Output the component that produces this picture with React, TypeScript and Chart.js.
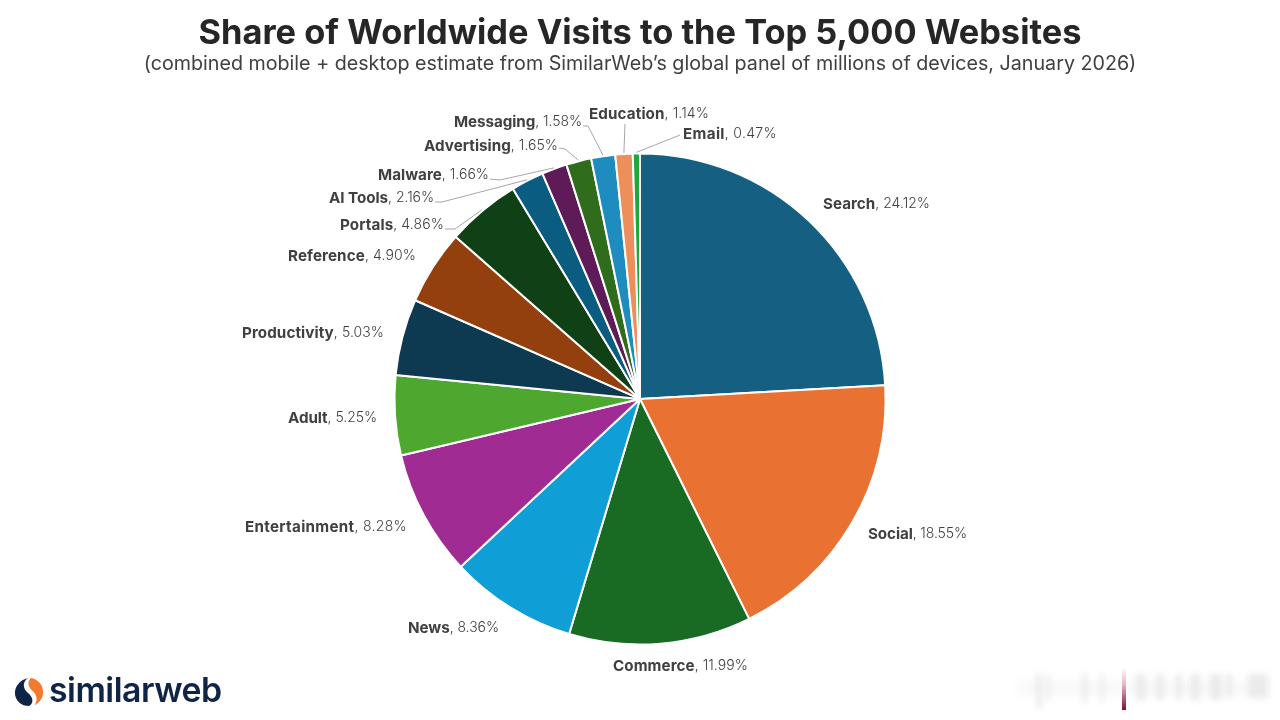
import { useEffect, useRef } from "react"
import { Chart, registerables } from "chart.js"

Chart.register(...registerables)

const categories = [
  "Search", "Social", "Commerce", "News", "Entertainment", "Adult", "Productivity", "Reference",
  "Portals", "AI Tools", "Malware", "Advertising", "Messaging", "Education", "Email",
]
const shares = [24.12, 18.55, 11.99, 8.36, 8.28, 5.25, 5.03, 4.9, 4.86, 2.16, 1.66, 1.65, 1.58, 1.14, 0.47]
const sliceColors = [
  "#156082", "#E97132", "#196B24", "#0F9ED5", "#A02B93", "#4EA72E", "#0D3A50", "#943F0E",
  "#0F4016", "#0A5C80", "#5F1A58", "#2F6C1B", "#1F8CC0", "#EE8E5B", "#1FA83A",
]

const titleText = "Share of Worldwide Visits to the Top 5,000 Websites"
const subtitleText =
  "(combined mobile + desktop estimate from SimilarWeb\u2019s global panel of millions of devices, January 2026)"

// label box: [left, right, middle y]
const labelBoxes = [
  [823, 930, 203], [868, 967, 533], [613, 748, 665], [408, 499, 627], [245, 407, 526],
  [288, 377, 417], [242, 384, 332], [288, 416, 255], [340, 444, 224], [329, 434, 197],
  [378, 489, 174], [424, 558, 145], [454, 582, 121], [589, 709, 113], [683, 777, 133],
]
// leader lines: label side points, the slice end comes from the arc itself
const leaders: Record<string, number[][]> = {
  "AI Tools": [[435, 202], [442, 202]],
  Portals: [[445, 229], [455, 229]],
  Malware: [[490, 179], [500, 180]],
  Advertising: [[559, 148], [565, 149]],
  Messaging: [[583, 126], [588, 126]],
  Education: [[625, 124]],
  Email: [[680, 135]],
}

const FONT = "Inter"

const labelPlugin = {
  id: "sliceLabels",
  afterDatasetsDraw(chart: any) {
    const ctx = chart.ctx
    const arcs = chart.getDatasetMeta(0).data
    ctx.save()
    arcs.forEach((arc: any, i: number) => {
      const name = categories[i]
      const { x, y, startAngle, endAngle, outerRadius } = arc.getProps(
        ["x", "y", "startAngle", "endAngle", "outerRadius"],
        true
      )
      const mid = (startAngle + endAngle) / 2
      const pts = leaders[name]
      if (pts) {
        ctx.beginPath()
        ctx.strokeStyle = "#A6A6A6"
        ctx.lineWidth = 1
        pts.forEach((p, k) => (k === 0 ? ctx.moveTo(p[0], p[1]) : ctx.lineTo(p[0], p[1])))
        ctx.lineTo(x + Math.cos(mid) * (outerRadius + 1), y + Math.sin(mid) * (outerRadius + 1))
        ctx.stroke()
      }
      const [left, right, my] = labelBoxes[i]
      const restPart = ", " + shares[i].toFixed(2) + "%"
      ctx.textBaseline = "middle"
      ctx.textAlign = "left"
      ctx.fillStyle = "#404040"
      const boldFont = `700 15.2px ${FONT}`
      const lightFont = `300 14px ${FONT}`
      ctx.letterSpacing = "0px"
      ctx.font = boldFont
      const wb = ctx.measureText(name).width
      ctx.font = lightFont
      const wl = ctx.measureText(restPart).width
      // stretch or squeeze slightly so each label fills the same box as the reference
      const spacing = (right - left - wb - wl) / (name.length + restPart.length)
      ctx.letterSpacing = spacing.toFixed(2) + "px"
      ctx.font = boldFont
      ctx.fillText(name, left, my + 1)
      const nextX = left + ctx.measureText(name).width
      ctx.font = lightFont
      ctx.fillText(restPart, nextX, my + 1)
    })
    ctx.restore()
  },
}

// blurred stamp in the lower right corner of the picture
const stampBars = [
  [1036, 6, 34], [1046, 4, 26], [1082, 5, 28], [1100, 4, 28], [1136, 10, 26], [1156, 8, 26],
  [1176, 6, 26], [1190, 10, 26], [1210, 12, 26], [1226, 6, 24], [1248, 20, 24],
]

export default function App() {
  const canvasRef = useRef<HTMLCanvasElement>(null)

  useEffect(() => {
    document.body.style.margin = "0"
    if (!canvasRef.current) return
    const chart = new Chart(canvasRef.current, {
      type: "pie",
      data: {
        labels: categories,
        datasets: [
          {
            data: shares,
            backgroundColor: sliceColors,
            borderColor: "#FFFFFF",
            borderWidth: 2,
          },
        ],
      },
      options: {
        animation: false,
        responsive: true,
        maintainAspectRatio: false,
        layout: { padding: { top: 14, bottom: 74.5, left: 0, right: 0 } },
        plugins: {
          legend: { display: false },
          tooltip: { enabled: false },
          title: {
            display: true,
            text: titleText,
            color: "#262626",
            font: { family: FONT, size: 34.4, weight: 700, lineHeight: 1.116 },
            padding: 0,
          },
          subtitle: {
            display: true,
            text: subtitleText,
            color: "#404040",
            font: { family: FONT, size: 19.7, weight: 400, lineHeight: 1.218 },
            padding: { top: 0, bottom: 76 },
          },
        },
      },
      plugins: [labelPlugin],
    })
    return () => chart.destroy()
  }, [])

  return (
    <div style={{ position: "absolute", left: 0, top: 0, width: 1280, height: 720, background: "#fff", overflow: "hidden" }}>
      <canvas ref={canvasRef}></canvas>
      <svg width="30" height="30" viewBox="0 0 32 32" style={{ position: "absolute", left: 14, top: 677 }}>
        <path d="M15 1 C8 6 10 13 15 17 C21 22 21 28 16 31 C8 31 1 25 1 17 C1 9 7 3 15 1 Z" fill="#0F2547" />
        <path d="M18 1 C25 2 31 8 31 16 C31 22 28 27 22 30 C26 23 24 18 19 14 C15 10 14 5 18 1 Z" fill="#F47A30" />
      </svg>
      <div
        style={{
          position: "absolute", left: 49, top: 670, fontFamily: "Inter", fontWeight: 600, fontSize: 33.8,
          lineHeight: "40px", color: "#0F2547", letterSpacing: "-0.5px",
        }}
      >
        similarweb
      </div>
      <div style={{ position: "absolute", left: 1018, top: 682, width: 250, height: 12, background: "#F2F2F2", filter: "blur(5px)", opacity: 0.6 }} />
      {stampBars.map(([x, w, h]) => (
        <div key={x} style={{ position: "absolute", left: x, top: 674, width: w, height: h, background: "#EBEBEB", filter: "blur(3px)" }} />
      ))}
      <div
        style={{
          position: "absolute", left: 1122, top: 667, width: 4, height: 43,
          background: "linear-gradient(#ffffff00, #E8B8C8 40%, #7A0F3C)", filter: "blur(0.6px)",
        }}
      />
    </div>
  )
}
